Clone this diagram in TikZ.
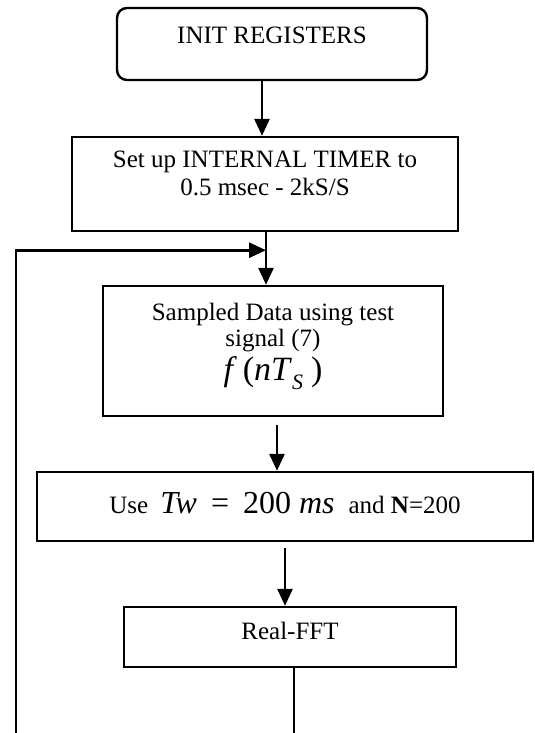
\documentclass[tikz,border=0pt]{standalone}
\usepackage{fontspec}
\setmainfont{Liberation Serif}
\usetikzlibrary{arrows.meta}

\begin{document}
\begin{tikzpicture}[x=0.5pt,y=0.5pt,yscale=-1,xscale=1,
  box/.style={draw, line width=1.2pt, rectangle, inner sep=0pt, align=center, font=\fontsize{12.5}{13.5}\selectfont},
  flow/.style={line width=1.4pt, -{Triangle[length=8.5pt,width=7.5pt]}},
  wire/.style={line width=1.1pt}]
%set diagram left start at 0, and has height of 733
\useasboundingbox (0,0) rectangle (535,733);

%Shape: Rounded Rect
\node (init) at (272,44) [box, rounded corners=5pt, minimum width=155pt, minimum height=36pt, text height=6.5pt, text depth=6.5pt] {INIT REGISTERS};
%Shape: Rectangle
\node (timer) at (265,184) [box, minimum width=193pt, minimum height=47pt, text height=20pt, text depth=9pt] {Set up INTERNAL TIMER to\\0.5 msec - 2kS/S};
%Shape: Rectangle
\node (sample) at (273,351) [box, minimum width=170pt, minimum height=65pt, text height=40pt, text depth=11pt, font=\fontsize{12.5}{13}\selectfont] {Sampled Data using test\\signal (7)\\[1pt]{\fontsize{17}{18}\selectfont\textit{f}\hspace{3pt}(\textit{nT}\raisebox{-4.5pt}{\fontsize{11}{11}\selectfont\textit{S}}\hspace{4pt})}};
%Shape: Rectangle
\node (window) at (285,506.5) [box, minimum width=248pt, minimum height=34.5pt, text height=10pt, text depth=3.5pt] {Use\hspace{6pt}{\fontsize{16}{18}\selectfont\textit{Tw}\hspace{7pt}=\hspace{7pt}200\hspace{4pt}\textit{ms}}\hspace{7pt}and \textbf{N}=200};
%Shape: Rectangle
\node (fft) at (290,637) [box, minimum width=166pt, minimum height=30pt, text height=6pt, text depth=4pt] {Real-FFT};

\coordinate (cut) at (0,733);
\coordinate (loopbot) at (16,733);
\coordinate (join) at ([xshift=0.5pt,yshift=9pt]timer.south);

%Straight Lines
\draw[flow] ([xshift=-5pt]init.south) -- ([xshift=-5pt]init.south |- timer.north);
%Straight Lines
\draw[flow] ([xshift=0.5pt]timer.south) -- ([xshift=0.5pt]timer.south |- sample.north);
%Straight Lines
\draw[flow] ([xshift=2pt,yshift=4pt]sample.south) -- ([xshift=2pt]sample.south |- window.north);
%Straight Lines
\draw[flow] ([yshift=3pt]window.south) -- (window.south |- fft.north);
%Straight Lines
\draw[wire] ([xshift=2pt]fft.south) -- ([xshift=2pt]fft.south |- cut);
%Straight Lines
\draw[flow] (loopbot) |- (join);

\end{tikzpicture}
\end{document}
